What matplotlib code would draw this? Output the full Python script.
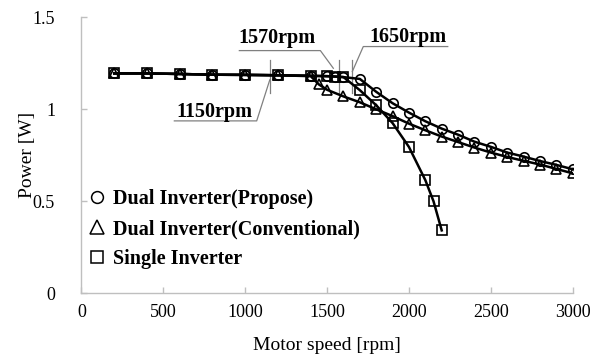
import matplotlib
matplotlib.use("Agg")
import matplotlib.pyplot as plt
from matplotlib.lines import Line2D

plt.rcParams['font.family'] = ['Liberation Serif', 'DejaVu Serif']

# ---- data ----
rpm_propose = [200, 400, 600, 800, 1000, 1200, 1400, 1500, 1550, 1600, 1700, 1800, 1900, 2000,
               2100, 2200, 2300, 2400, 2500, 2600, 2700, 2800, 2900, 3000]
pow_propose = [1.195, 1.195, 1.192, 1.188, 1.187, 1.185, 1.182, 1.180, 1.178, 1.175, 1.165, 1.095,
               1.033, 0.982, 0.935, 0.895, 0.862, 0.824, 0.796, 0.765, 0.743, 0.719, 0.698, 0.674]

rpm_conv = [200, 400, 600, 800, 1000, 1200, 1400, 1450, 1500, 1600, 1700, 1800, 1900, 2000,
            2100, 2200, 2300, 2400, 2500, 2600, 2700, 2800, 2900, 3000]
pow_conv = [1.195, 1.195, 1.192, 1.188, 1.187, 1.185, 1.180, 1.135, 1.106, 1.070, 1.038, 1.000,
            0.963, 0.922, 0.886, 0.852, 0.822, 0.792, 0.765, 0.741, 0.720, 0.700, 0.676, 0.652]

rpm_single = [200, 400, 600, 800, 1000, 1200, 1400, 1500, 1550, 1600, 1700, 1800, 1900, 2000,
              2100, 2150, 2200]
pow_single = [1.195, 1.195, 1.192, 1.188, 1.187, 1.185, 1.182, 1.180, 1.178, 1.175, 1.104, 1.022,
              0.925, 0.795, 0.615, 0.500, 0.342]

labels = ['Dual Inverter(Propose)', 'Dual Inverter(Conventional)', 'Single Inverter']
x_ticks = [0, 500, 1000, 1500, 2000, 2500, 3000]
y_ticks = [0, 0.5, 1, 1.5]
y_ticklabels = ['0', '0.5', '1', '1.5']
marks_rpm = [1150, 1570, 1650]
mark_texts = ['1150rpm', '1570rpm', '1650rpm']

# ---- figure ----
fig = plt.figure(figsize=(6.16, 3.58), dpi=100)
ax = fig.add_axes([0.1323, 0.1807, 0.7974, 0.771])

lw = 1.8
ax.plot(rpm_propose, pow_propose, color='black', lw=lw, marker='o', ms=6.8,
        mfc='none', mec='black', mew=1.2, zorder=3)
ax.plot(rpm_conv, pow_conv, color='black', lw=lw, marker='^', ms=6.8,
        mfc='none', mec='black', mew=1.2, zorder=3)
ax.plot(rpm_single, pow_single, color='black', lw=lw, marker='s', ms=7.2,
        mfc='none', mec='black', mew=1.2, zorder=4)

ax.set_xlim(0, 3000)
ax.set_ylim(0, 1.5)
ax.set_xticks(x_ticks)
ax.set_yticks(y_ticks)
ax.set_yticklabels(y_ticklabels)

for s in ['top', 'right']:
    ax.spines[s].set_visible(False)
for s in ['left', 'bottom']:
    ax.spines[s].set_color('#bfbfbf')
    ax.spines[s].set_linewidth(1.0)
ax.tick_params(direction='in', length=4, color='#bfbfbf', labelsize=13, width=1.0)
ax.tick_params(axis='x', pad=8)
ax.tick_params(axis='y', pad=19)

ax.set_xlabel('Motor speed [rpm]', fontsize=14)
ax.set_ylabel('Power [W]', fontsize=14)
ax.xaxis.set_label_coords(0.5, -0.19)
ax.xaxis.label.set_va('center')
ax.yaxis.set_label_coords(-0.11, 0.5)
ax.yaxis.label.set_va('center')

# ---- rpm markers and leader lines ----
gc = '#808080'
for r in marks_rpm:
    ax.plot([r, r], [1.088, 1.268], color=gc, lw=0.9, zorder=2)

fs_ann = 14.5
# 1150rpm
ax.plot([1150, 1070, 567], [1.16, 0.937, 0.937], color=gc, lw=0.9, zorder=2)
ax.text(577, 0.958, mark_texts[0], fontsize=fs_ann, fontweight='bold', va='baseline', ha='left')
# 1570rpm
ax.plot([1538, 1459, 964], [1.223, 1.319, 1.319], color=gc, lw=0.9, zorder=2)
ax.text(956, 1.36, mark_texts[1], fontsize=fs_ann, fontweight='bold', va='baseline', ha='left')
# 1650rpm
ax.plot([1654, 1721, 2237], [1.205, 1.341, 1.341], color=gc, lw=0.9, zorder=2)
ax.text(1756, 1.366, mark_texts[2], fontsize=fs_ann, fontweight='bold', va='baseline', ha='left')

# ---- legend ----
handles = [Line2D([], [], ls='none', marker=m, ms=ms, mfc='none', mec='black', mew=1.1)
           for m, ms in [('o', 8.5), ('^', 10), ('s', 9)]]
leg = ax.legend(handles, labels, loc='upper left', bbox_to_anchor=(0.016, 0.378),
                frameon=False, handlelength=0.8, handletextpad=0.35, labelspacing=0.5,
                borderaxespad=0.0, borderpad=0.0,
                prop={'family': ['Liberation Serif'], 'weight': 'bold', 'size': 14.5})

fig.savefig('out.png', dpi=100)
